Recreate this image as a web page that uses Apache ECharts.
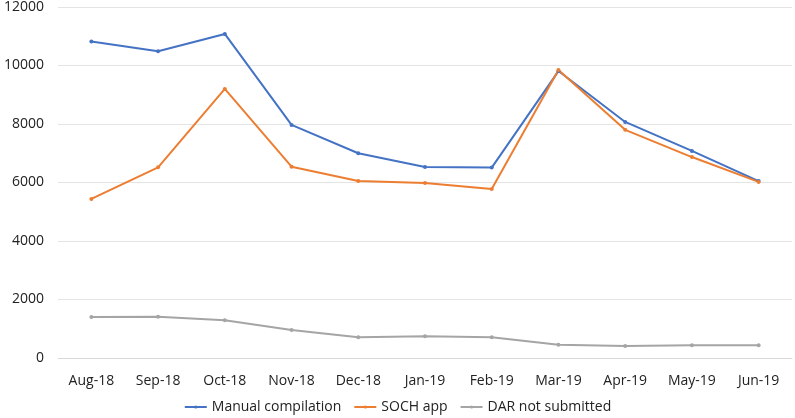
<!DOCTYPE html>
<html>
<head>
<meta charset="utf-8">
<script src="https://cdn.jsdelivr.net/npm/echarts@6/dist/echarts.min.js"></script>
<style>
  html, body { margin: 0; padding: 0; background: #fff; }
  #chart { width: 795px; height: 418px; }
</style>
</head>
<body>
<div id="chart"></div>
<script>
const months = ['Aug-18', 'Sep-18', 'Oct-18', 'Nov-18', 'Dec-18', 'Jan-19', 'Feb-19', 'Mar-19', 'Apr-19', 'May-19', 'Jun-19']
const manualCompilation = [10820, 10490, 11080, 7970, 7000, 6530, 6510, 9810, 8070, 7080, 6050]
const sochApp = [5440, 6520, 9200, 6540, 6050, 5980, 5780, 9850, 7800, 6870, 6020]
const darNotSubmitted = [1400, 1410, 1290, 960, 710, 740, 710, 450, 410, 440, 440]
const yTicks = { min: 0, max: 12000, interval: 2000 }

const chart = echarts.init(document.getElementById('chart'))

// small dot markers, same as the office-style line chart
const makeSeries = (name, data, color) => ({
  name,
  type: 'line',
  data,
  symbol: 'circle',
  symbolSize: 4,
  lineStyle: { width: 2, color },
  itemStyle: { color },
  emphasis: { disabled: true }
})

chart.setOption({
  animation: false,
  textStyle: { fontFamily: 'Open Sans, Liberation Sans, sans-serif' },
  grid: { left: 58, right: 3, top: 7, bottom: 60 },
  legend: {
    bottom: -1,
    itemWidth: 22,
    itemHeight: 4,
    itemGap: 12,
    textStyle: { fontSize: 14, color: '#222' },
    data: ['Manual compilation', 'SOCH app', 'DAR not submitted']
  },
  xAxis: {
    type: 'category',
    data: months,
    boundaryGap: true,
    axisLine: { lineStyle: { color: '#d9d9d9' } },
    axisTick: { show: false },
    axisLabel: { fontSize: 14, color: '#222', margin: 16 }
  },
  yAxis: {
    type: 'value',
    min: yTicks.min,
    max: yTicks.max,
    interval: yTicks.interval,
    axisLine: { show: false },
    axisTick: { show: false },
    axisLabel: { fontSize: 14, color: '#222', margin: 14, formatter: (v) => String(v) },
    splitLine: { lineStyle: { color: '#e4e4e4' } }
  },
  series: [
    makeSeries('Manual compilation', manualCompilation, '#4472C4'),
    makeSeries('SOCH app', sochApp, '#ED7D31'),
    makeSeries('DAR not submitted', darNotSubmitted, '#A5A5A5')
  ]
})
</script>
</body>
</html>
